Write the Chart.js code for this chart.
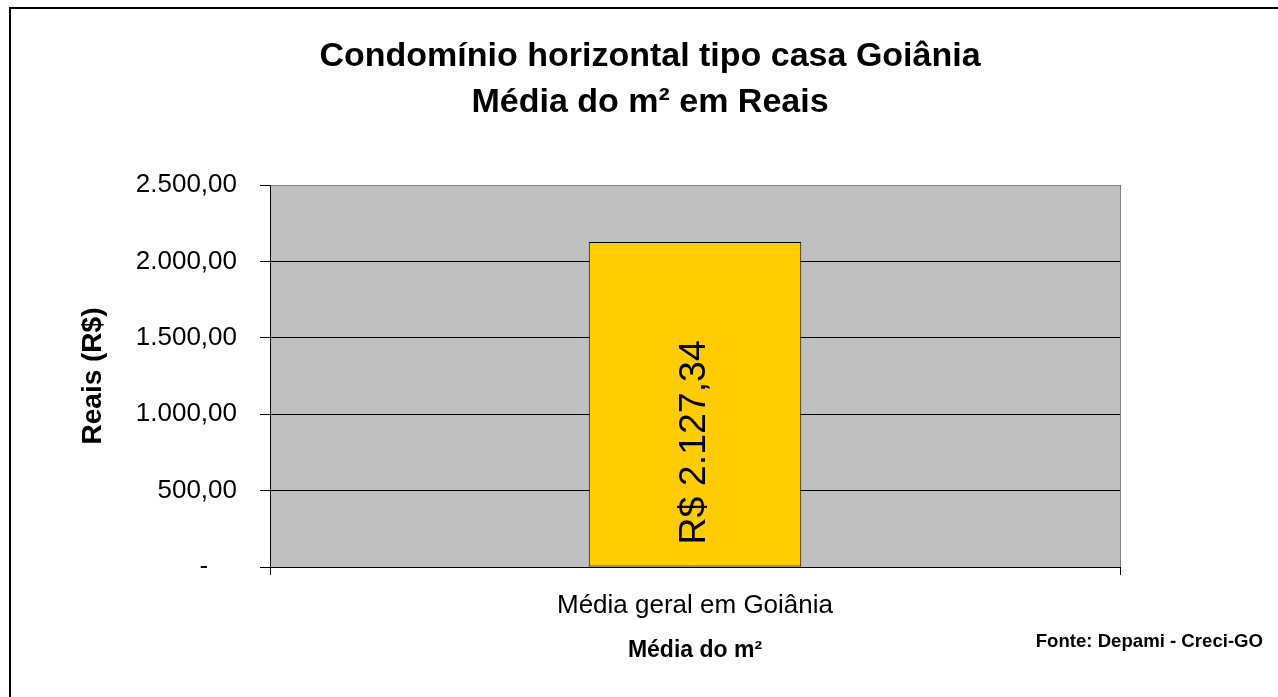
<!DOCTYPE html>
<html>
<head>
<meta charset="utf-8">
<script src="https://cdn.jsdelivr.net/npm/chart.js@4/dist/chart.umd.min.js"></script>
<style>
  html, body { margin: 0; padding: 0; background: #fff; }
  #wrap { position: absolute; left: 0; top: 0; width: 1278px; height: 697px; }
</style>
</head>
<body>
<div id="wrap"><canvas id="c" width="1278" height="697"></canvas></div>
<script>
const titleLines = ['Condomínio horizontal tipo casa Goiânia', 'Média do m² em Reais'];
const categories = ['Média geral em Goiânia'];
const seriesValues = [2127.34];
const barLabels = ['R$ 2.127,34'];
const yTickValues = [0, 500, 1000, 1500, 2000, 2500];
const yTickLabels = ['-    ', '500,00', '1.000,00', '1.500,00', '2.000,00', '2.500,00'];
const yAxisTitle = 'Reais (R$)';
const xAxisTitle = 'Média do m²';
const sourceNote = 'Fonte: Depami - Creci-GO';

const FONT = '"Liberation Sans", Arial, sans-serif';

const framePlugin = {
  id: 'frame',
  beforeDraw(chart) {
    const ctx = chart.ctx;
    const a = chart.chartArea;
    ctx.save();
    ctx.fillStyle = '#ffffff';
    ctx.fillRect(0, 0, chart.width, chart.height);
    ctx.strokeStyle = '#000000';
    ctx.lineWidth = 2;
    ctx.strokeRect(10, 8, chart.width + 20, chart.height + 20);
    ctx.fillStyle = '#C0C0C0';
    ctx.fillRect(a.left, a.top, a.right - a.left, a.bottom - a.top);
    ctx.strokeStyle = '#808080';
    ctx.lineWidth = 1;
    ctx.beginPath();
    ctx.moveTo(Math.round(a.right) + 0.5, a.top);
    ctx.lineTo(Math.round(a.right) + 0.5, a.bottom);
    ctx.stroke();
    // chart title
    ctx.fillStyle = '#000000';
    ctx.font = 'bold 34px ' + FONT;
    ctx.textAlign = 'center';
    ctx.textBaseline = 'middle';
    titleLines.forEach((t, i) => ctx.fillText(t, 650, 57 + i * 46));
    ctx.restore();
  },
  afterDatasetsDraw(chart) {
    const ctx = chart.ctx;
    const meta = chart.getDatasetMeta(0);
    ctx.save();
    ctx.fillStyle = '#000000';
    ctx.font = '37.5px ' + FONT;
    ctx.textAlign = 'left';
    ctx.textBaseline = 'middle';
    meta.data.forEach((bar, i) => {
      ctx.save();
      ctx.translate(bar.x, bar.base - 22);
      ctx.rotate(-Math.PI / 2);
      ctx.fillText(barLabels[i], 0, 0);
      ctx.restore();
    });
    ctx.font = 'bold 18.6px ' + FONT;
    ctx.textAlign = 'right';
    ctx.fillText(sourceNote, 1263, 642);
    ctx.restore();
  }
};

new Chart(document.getElementById('c'), {
  type: 'bar',
  data: {
    labels: categories,
    datasets: [{
      data: seriesValues,
      backgroundColor: '#FFCC00',
      borderColor: '#000000',
      borderWidth: 1,
      borderSkipped: false,
      barPercentage: 0.25,
      categoryPercentage: 1.0
    }]
  },
  options: {
    responsive: false,
    animation: false,
    events: [],
    layout: { padding: { left: 0, right: 158, top: 185, bottom: 0 } },
    plugins: {
      legend: { display: false },
      tooltip: { enabled: false },
      title: { display: false }
    },
    scales: {
      x: {
        grid: { display: true, drawOnChartArea: false, tickLength: 8, tickColor: '#000000', color: '#000000', offset: true },
        border: { display: true, color: '#000000' },
        ticks: { color: '#000000', font: { family: FONT, size: 26 }, padding: 15 },
        title: { display: true, text: xAxisTitle, color: '#000000', font: { family: FONT, size: 23, weight: 'bold' }, padding: { top: 0, bottom: 33 } },
        afterFit(scale) { scale.height = 130; }
      },
      y: {
        min: 0,
        max: 2500,
        afterBuildTicks(scale) { scale.ticks = yTickValues.map(v => ({ value: v })); },
        grid: {
          tickLength: 10,
          tickColor: '#000000',
          color: (c) => (c.tick && c.tick.value === 2500 ? '#808080' : '#000000'),
          lineWidth: 1
        },
        border: { display: true, color: '#000000', width: 1 },
        ticks: {
          color: '#000000',
          font: { family: FONT, size: 26 },
          padding: 23,
          callback: (v, i) => yTickLabels[i]
        },
        title: { display: true, text: yAxisTitle, color: '#000000', font: { family: FONT, size: 28, weight: 'bold' }, padding: { top: 76, bottom: 0 } },
        afterFit(scale) { scale.width = 270; }
      }
    }
  },
  plugins: [framePlugin]
});
</script>
</body>
</html>
